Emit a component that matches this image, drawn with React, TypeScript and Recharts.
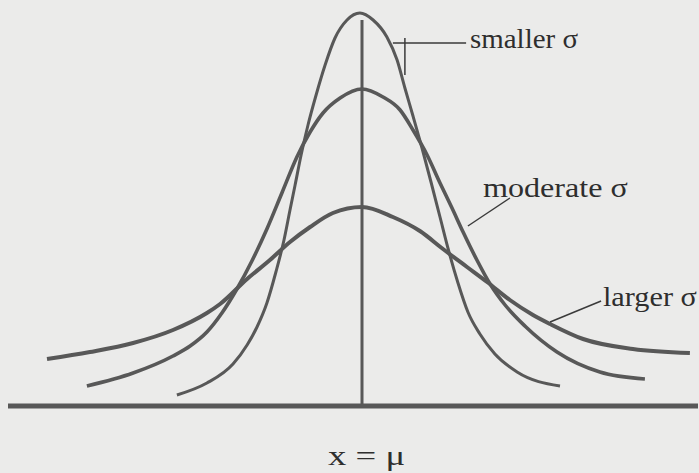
import { LineChart, Line, XAxis, YAxis, ReferenceLine, ReferenceDot } from "recharts";

// three bell curves around the same mean, x in spread units, y in density units
const smallerSigma = [
  { x: -6.17, y: 0.11 },
  { x: -5.17, y: 0.23 },
  { x: -4.3, y: 0.42 },
  { x: -3.83, y: 0.61 },
  { x: -3.5, y: 0.79 },
  { x: -3.17, y: 1.03 },
  { x: -2.87, y: 1.34 },
  { x: -2.6, y: 1.66 },
  { x: -2.4, y: 1.96 },
  { x: -2.23, y: 2.21 },
  { x: -2.03, y: 2.51 },
  { x: -1.8, y: 2.81 },
  { x: -1.53, y: 3.11 },
  { x: -1.23, y: 3.41 },
  { x: -0.9, y: 3.68 },
  { x: -0.5, y: 3.86 },
  { x: -0.07, y: 3.93 },
  { x: 0.37, y: 3.86 },
  { x: 0.83, y: 3.69 },
  { x: 1.17, y: 3.46 },
  { x: 1.43, y: 3.18 },
  { x: 1.7, y: 2.9 },
  { x: 2.0, y: 2.58 },
  { x: 2.3, y: 2.24 },
  { x: 2.6, y: 1.89 },
  { x: 2.9, y: 1.54 },
  { x: 3.2, y: 1.23 },
  { x: 3.53, y: 0.94 },
  { x: 3.93, y: 0.72 },
  { x: 4.43, y: 0.52 },
  { x: 5.17, y: 0.34 },
  { x: 6.6, y: 0.2 },
];

const moderateSigma = [
  { x: -9.17, y: 0.2 },
  { x: -7.63, y: 0.33 },
  { x: -6.3, y: 0.5 },
  { x: -5.73, y: 0.6 },
  { x: -5.17, y: 0.74 },
  { x: -4.67, y: 0.93 },
  { x: -4.17, y: 1.17 },
  { x: -3.67, y: 1.45 },
  { x: -3.17, y: 1.77 },
  { x: -2.67, y: 2.13 },
  { x: -2.17, y: 2.49 },
  { x: -1.73, y: 2.74 },
  { x: -1.3, y: 2.93 },
  { x: -0.73, y: 3.08 },
  { x: 0, y: 3.17 },
  { x: 0.7, y: 3.09 },
  { x: 1.27, y: 2.96 },
  { x: 1.7, y: 2.76 },
  { x: 2.17, y: 2.51 },
  { x: 2.6, y: 2.23 },
  { x: 3.0, y: 1.98 },
  { x: 3.37, y: 1.74 },
  { x: 3.83, y: 1.46 },
  { x: 4.27, y: 1.22 },
  { x: 4.77, y: 1.01 },
  { x: 5.43, y: 0.8 },
  { x: 6.5, y: 0.54 },
  { x: 7.93, y: 0.34 },
  { x: 9.43, y: 0.27 },
];

const largerSigma = [
  { x: -10.5, y: 0.47 },
  { x: -9.07, y: 0.54 },
  { x: -7.63, y: 0.63 },
  { x: -6.3, y: 0.76 },
  { x: -5.17, y: 0.93 },
  { x: -4.73, y: 1.02 },
  { x: -3.83, y: 1.27 },
  { x: -3.07, y: 1.46 },
  { x: -2.4, y: 1.64 },
  { x: -1.73, y: 1.79 },
  { x: -0.97, y: 1.93 },
  { x: 0, y: 1.99 },
  { x: 1.03, y: 1.89 },
  { x: 1.93, y: 1.75 },
  { x: 2.7, y: 1.57 },
  { x: 3.5, y: 1.39 },
  { x: 4.17, y: 1.24 },
  { x: 4.93, y: 1.06 },
  { x: 5.7, y: 0.91 },
  { x: 6.27, y: 0.82 },
  { x: 7.37, y: 0.67 },
  { x: 9.03, y: 0.57 },
  { x: 10.93, y: 0.53 },
];

const curveLabels = [
  { text: "smaller σ", x: 3.6, y: 3.58, width: 108 },
  { text: "moderate σ", x: 4.03, y: 2.09, width: 145 },
  { text: "larger σ", x: 8.03, y: 1.0, width: 94 },
  { text: "x = μ", x: -1.13, y: -0.59, width: 77 },
];

// leader strokes from each label back to its curve
const leaders = [
  { from: { x: 1.03, y: 3.63 }, to: { x: 3.47, y: 3.63 } },
  { from: { x: 1.43, y: 3.68 }, to: { x: 1.43, y: 3.31 } },
  { from: { x: 3.53, y: 1.8 }, to: { x: 4.93, y: 2.08 } },
  { from: { x: 6.27, y: 0.84 }, to: { x: 7.97, y: 1.05 } },
];

const ink = "#585858";
const textInk = "#2e2e2e";

export default function App() {
  return (
    <div
      style={{
        position: "fixed",
        left: 0,
        top: 0,
        width: 699,
        height: 473,
        background: "#ebebea",
      }}
    >
      <LineChart width={699} height={473} margin={{ top: 6, right: 1, bottom: 0, left: 2 }}>
        <XAxis type="number" dataKey="x" domain={[-12, 11.2]} allowDataOverflow hide />
        <YAxis type="number" dataKey="y" domain={[-0.67, 4]} allowDataOverflow hide />

        <ReferenceLine
          segment={[{ x: -11.8, y: 0 }, { x: 11.2, y: 0 }]}
          stroke={ink}
          strokeWidth={5}
        />
        <ReferenceLine
          segment={[{ x: 0, y: 0 }, { x: 0, y: 3.86 }]}
          stroke={ink}
          strokeWidth={3}
        />

        <Line data={largerSigma} dataKey="y" type="monotone" stroke={ink} strokeWidth={4} dot={false} isAnimationActive={false} />
        <Line data={moderateSigma} dataKey="y" type="monotone" stroke={ink} strokeWidth={3.6} dot={false} isAnimationActive={false} />
        <Line data={smallerSigma} dataKey="y" type="monotone" stroke={ink} strokeWidth={3} dot={false} isAnimationActive={false} />

        {leaders.map((l, i) => (
          <ReferenceLine key={i} segment={[l.from, l.to]} stroke="#3a3a3a" strokeWidth={1.5} />
        ))}

        {curveLabels.map((lab) => (
          <ReferenceDot
            key={lab.text}
            x={lab.x}
            y={lab.y}
            r={0}
            shape={(p: any) => (
              <text
                x={p.cx}
                y={p.cy}
                textLength={lab.width}
                lengthAdjust="spacingAndGlyphs"
                fontFamily="Liberation Serif, serif"
                fontSize={27}
                fill={textInk}
              >
                {lab.text}
              </text>
            )}
          />
        ))}
      </LineChart>
    </div>
  );
}
